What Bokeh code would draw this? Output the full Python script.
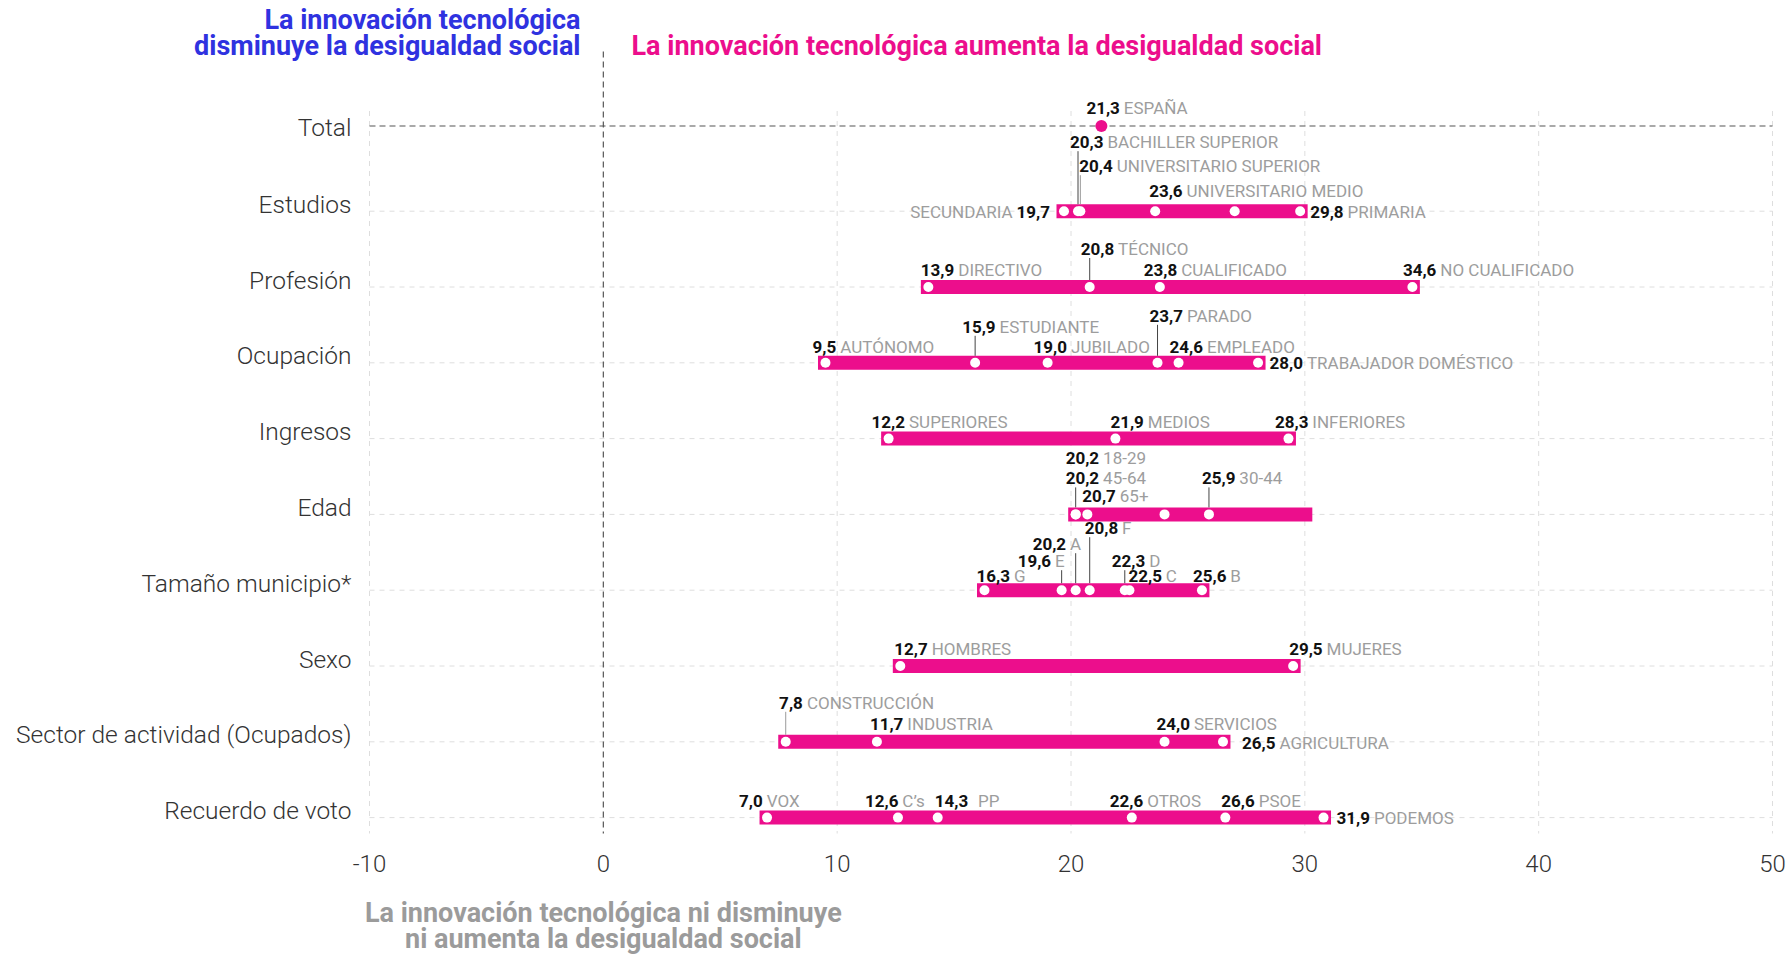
from bokeh.plotting import figure
from bokeh.models import Range1d, ColumnDataSource
from bokeh.core.properties import value
from bokeh.embed import file_html
from bokeh.resources import INLINE

# ---------------- data ----------------
categories = ["Total", "Estudios", "Profesión", "Ocupación", "Ingresos", "Edad",
              "Tamaño municipio*", "Sexo", "Sector de actividad (Ocupados)", "Recuerdo de voto"]
x_ticks = [-10, 0, 10, 20, 30, 40, 50]
x_tick_labels = ["-10", "0", "10", "20", "30", "40", "50"]

total_values = [21.3]
total_shown = ["21,3"]
total_names = ["ESPAÑA"]

estudios_values = [19.7, 20.3, 20.4, 23.6, 27.0, 29.8]
estudios_shown = ["19,7", "20,3", "20,4", "23,6", "", "29,8"]
estudios_names = ["SECUNDARIA", "BACHILLER SUPERIOR", "UNIVERSITARIO SUPERIOR", "UNIVERSITARIO MEDIO", "", "PRIMARIA"]

profesion_values = [13.9, 20.8, 23.8, 34.6]
profesion_shown = ["13,9", "20,8", "23,8", "34,6"]
profesion_names = ["DIRECTIVO", "TÉCNICO", "CUALIFICADO", "NO CUALIFICADO"]

ocupacion_values = [9.5, 15.9, 19.0, 23.7, 24.6, 28.0]
ocupacion_shown = ["9,5", "15,9", "19,0", "23,7", "24,6", "28,0"]
ocupacion_names = ["AUTÓNOMO", "ESTUDIANTE", "JUBILADO", "PARADO", "EMPLEADO", "TRABAJADOR DOMÉSTICO"]

ingresos_values = [12.2, 21.9, 29.3]
ingresos_shown = ["12,2", "21,9", "28,3"]
ingresos_names = ["SUPERIORES", "MEDIOS", "INFERIORES"]

edad_values = [20.2, 20.2, 20.7, 24.0, 25.9]
edad_shown = ["20,2", "20,2", "20,7", "", "25,9"]
edad_names = ["18-29", "45-64", "65+", "", "30-44"]

municipio_values = [16.3, 19.6, 20.2, 20.8, 22.3, 22.5, 25.6]
municipio_shown = ["16,3", "19,6", "20,2", "20,8", "22,3", "22,5", "25,6"]
municipio_names = ["G", "E", "A", "F", "D", "C", "B"]

sexo_values = [12.7, 29.5]
sexo_shown = ["12,7", "29,5"]
sexo_names = ["HOMBRES", "MUJERES"]

sector_values = [7.8, 11.7, 24.0, 26.5]
sector_shown = ["7,8", "11,7", "24,0", "26,5"]
sector_names = ["CONSTRUCCIÓN", "INDUSTRIA", "SERVICIOS", "AGRICULTURA"]

voto_values = [7.0, 12.6, 14.3, 22.6, 26.6, 30.8]
voto_shown = ["7,0", "12,6", "14,3", "22,6", "26,6", "31,9"]
voto_names = ["VOX", "C’s", "PP", "OTROS", "PSOE", "PODEMOS"]

# extent of each range bar (rows 1..9)
range_lo = [19.7, 13.9, 9.5, 12.2, 20.2, 16.3, 12.7, 7.8, 7.0]
range_hi = [29.8, 34.6, 28.0, 29.3, 30.0, 25.6, 29.5, 26.5, 30.8]

# ---------------- label layout (px offsets: dx, dy, kind, leader[, gap]) ----------------
total_lay = [(-15, -18, "a", 0)]
estudios_lay = [(-14, 1, "l", 0), (-8, -69, "a", 1), (-1, -45, "a", 2), (-6, -20, "a", 0), None, (10, 1, "a", 0)]
profesion_lay = [(-7.5, -17, "a", 0), (-9, -38, "a", 1), (-16, -17, "a", 0), (-9.5, -17, "a", 0)]
ocupacion_lay = [(-13, -16, "a", 0), (-13, -36, "a", 1), (-14, -16, "a", 0), (-8, -47, "a", 1), (-9, -16, "a", 0), (11.5, 0, "a", 0)]
ingresos_lay = [(-17, -17, "a", 0), (-5, -17, "a", 0), (-13.5, -17, "a", 0)]
edad_lay = [(-10, -56, "a", 0), (-10, -36, "a", 1), (-5, -18, "a", 0), None, (-7, -36, "a", 1)]
municipio_lay = [(-8, -14, "a", 0), (-44, -29, "a", 1), (-43, -46, "a", 1), (-5, -62, "a", 1), (-13, -29, "a", 1), (-1, -14, "a", 0), (-9, -14, "a", 0)]
sexo_lay = [(-6, -17, "a", 0), (-4, -17, "a", 0)]
sector_lay = [(-6.6, -39, "a", 2), (-7, -18, "a", 0), (-8, -18, "a", 0), (19, 1, "a", 0)]
voto_lay = [(-28, -17, "a", 0), (-33, -17, "a", 0), (-3, -17, "a", 0, 11), (-22, -17, "a", 0), (-4, -17, "a", 0), (13, 0, "a", 0)]

rows = [
    (total_values, total_shown, total_names, total_lay),
    (estudios_values, estudios_shown, estudios_names, estudios_lay),
    (profesion_values, profesion_shown, profesion_names, profesion_lay),
    (ocupacion_values, ocupacion_shown, ocupacion_names, ocupacion_lay),
    (ingresos_values, ingresos_shown, ingresos_names, ingresos_lay),
    (edad_values, edad_shown, edad_names, edad_lay),
    (municipio_values, municipio_shown, municipio_names, municipio_lay),
    (sexo_values, sexo_shown, sexo_names, sexo_lay),
    (sector_values, sector_shown, sector_names, sector_lay),
    (voto_values, voto_shown, voto_names, voto_lay),
]

# ---------------- geometry (frame = whole canvas) ----------------
W, H = 1788, 958
X0, X1 = -10, 50
SX0, SX1 = 369, 1772            # screen x of X0 and X1
PX_X = (SX1 - SX0) / (X1 - X0)
PX_Y = 75.8                     # px per row
SY_ROW1 = 210.7                 # screen y of row 1
XS = X0 - SX0 / PX_X
XE = X0 + (W - SX0) / PX_X
YT = 1 - SY_ROW1 / PX_Y
YB = 1 + (H - SY_ROW1) / PX_Y
row_y = [1 - 85.2 / PX_Y] + list(range(1, 10))

PINK = "#EC0E8C"
BLUE = "#2F32E0"
GREY = "#9d9d9d"
FONT = "Roboto"
LFONT = "Roboto Light"
LAB_SIZE = 17
GAP = 5


def sx_to_x(sx):
    return XS + sx / PX_X


def sy_to_y(sy):
    return YT + sy / PX_Y


def num_width(s):
    return sum(0.22 if ch in ",." else 0.562 for ch in s) * LAB_SIZE


p = figure(width=W, height=H, x_range=Range1d(XS, XE), y_range=Range1d(YB, YT),
           output_backend="svg", toolbar_location=None,
           x_axis_location=None, y_axis_location=None,
           min_border=0, min_border_left=0, min_border_right=0, min_border_top=0, min_border_bottom=0)
p.outline_line_color = None
p.xgrid.visible = False
p.ygrid.visible = False

GRID_BOTTOM = sy_to_y(833)

# grid lines
gx = [t for t in x_ticks if t != 0]
p.segment(x0=gx, x1=gx, y0=[row_y[0] - 15 / PX_Y] * len(gx), y1=[GRID_BOTTOM] * len(gx),
          line_color="#dedede", line_dash="5 5", line_width=1)
p.segment(x0=[X0] * 9, x1=[X1] * 9, y0=row_y[1:], y1=row_y[1:],
          line_color="#dedede", line_dash="5 5", line_width=1)
# zero line and total line
p.segment(x0=[0], x1=[0], y0=[sy_to_y(51)], y1=[GRID_BOTTOM], line_color="#555555", line_dash="6 4", line_width=1.2)
p.segment(x0=[X0], x1=[X1], y0=[row_y[0]], y1=[row_y[0]], line_color="#555555", line_dash="6 4", line_width=1.2)

# x tick labels (axis)
p.text(x=x_ticks, y=[sy_to_y(863)] * len(x_ticks), text=x_tick_labels, text_align="center",
       text_baseline="middle", text_font=value(LFONT), text_font_size="24px", text_color="#333333")

# category labels (axis)
cat_y = [row_y[0] + 1 / PX_Y] + [r - 7 / PX_Y for r in row_y[1:]]
p.text(x=[X0] * len(categories), y=cat_y, text=categories, x_offset=-18, text_align="right",
       text_baseline="middle", text_font=value(LFONT), text_font_size="24.5px", text_color="#333333")

# bars
PAD = 0.32
p.hbar(y=row_y[1:], left=[v - PAD for v in range_lo], right=[v + PAD for v in range_hi],
       height=14 / PX_Y, fill_color=PINK, line_color=None)

# dots
dx_, dy_ = [], []
for i, (vals, _, _, _) in enumerate(rows[1:], start=1):
    for v in vals:
        dx_.append(v)
        dy_.append(row_y[i])
p.scatter(x=dx_, y=dy_, size=10, fill_color="white", line_color=None)
p.scatter(x=total_values, y=[row_y[0]], size=12, fill_color=PINK, line_color=None)

# labels
srcs = {k: dict(x=[], y=[], xo=[], yo=[], text=[]) for k in ("numL", "numR", "nameL", "nameR")}
lead = {1: dict(x0=[], y0=[], y1=[]), 2: dict(x0=[], y0=[], y1=[])}
for i, (vals, shown, names, lay) in enumerate(rows):
    for v, s, n, l in zip(vals, shown, names, lay):
        if l is None:
            continue
        dx, dy, kind, leader = l[:4]
        gap = l[4] if len(l) > 4 else GAP
        w = num_width(s)
        if kind == "a":
            parts = (("numL", dx, s), ("nameL", dx + w + gap, n))
        else:
            parts = (("numR", dx, s), ("nameR", dx - w - gap, n))
        for k, xo, t in parts:
            srcs[k]["x"].append(v); srcs[k]["y"].append(row_y[i])
            srcs[k]["xo"].append(xo); srcs[k]["yo"].append(dy); srcs[k]["text"].append(t)
        if leader:
            lead[leader]["x0"].append(v)
            lead[leader]["y0"].append(row_y[i] - 7 / PX_Y)
            lead[leader]["y1"].append(row_y[i] + (dy + 9) / PX_Y)

for k, col in ((1, "#444444"), (2, "#9a9a9a")):
    d = lead[k]
    p.segment(x0=d["x0"], x1=d["x0"], y0=d["y0"], y1=d["y1"], line_color=col, line_width=1)

for k, align, bold, col in (("numL", "left", True, "#111111"), ("numR", "right", True, "#111111"),
                            ("nameL", "left", False, GREY), ("nameR", "right", False, GREY)):
    p.text(x="x", y="y", text="text", x_offset="xo", y_offset="yo", source=ColumnDataSource(srcs[k]),
           text_align=align, text_baseline="middle", text_font=value(FONT),
           text_font_size=f"{LAB_SIZE}px", text_font_style="bold" if bold else "normal",
           text_color=col)

# titles
TSIZE = "27px"
blue_lines = ["La innovación tecnológica", "disminuye la desigualdad social"]
p.text(x=[sx_to_x(580)] * 2, y=[sy_to_y(19.5), sy_to_y(45.6)], text=blue_lines, text_align="right",
       text_baseline="alphabetic", text_font=value(FONT), text_font_size=TSIZE,
       text_font_style="bold", text_color=BLUE)
p.text(x=[sx_to_x(631)], y=[sy_to_y(45.6)], text=["La innovación tecnológica aumenta la desigualdad social"],
       text_align="left", text_baseline="alphabetic", text_font=value(FONT), text_font_size=TSIZE,
       text_font_style="bold", text_color=PINK)
grey_lines = ["La innovación tecnológica ni disminuye", "ni aumenta la desigualdad social"]
p.text(x=[0, 0], y=[sy_to_y(912), sy_to_y(938)], text=grey_lines, text_align="center",
       text_baseline="alphabetic", text_font=value(FONT), text_font_size=TSIZE,
       text_font_style="bold", text_color="#9b9b9b")

open("out.html", "w").write(file_html(p, INLINE))
